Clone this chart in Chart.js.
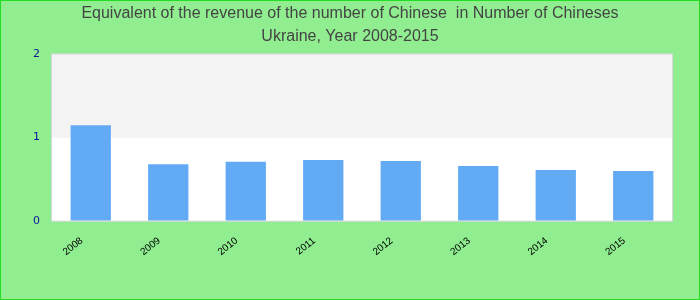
<!DOCTYPE html>
<html>
<head>
<meta charset="utf-8">
<script src="https://cdn.jsdelivr.net/npm/chart.js@4/dist/chart.umd.min.js"></script>
<style>
  html, body { margin: 0; padding: 0; }
  #wrap {
    width: 700px; height: 300px; box-sizing: border-box;
    border: 1px solid #22dd22; background: #90ee90;
  }
</style>
</head>
<body>
<div id="wrap"><canvas id="myChart" width="698" height="298"></canvas></div>
<script>
const years = ['2008', '2009', '2010', '2011', '2012', '2013', '2014', '2015'];
const values = [1.15, 0.68, 0.71, 0.73, 0.72, 0.66, 0.61, 0.60];
const titleLines = ['Equivalent of the revenue of the number of Chinese  in Number of Chineses', 'Ukraine, Year 2008-2015'];

// white / light grey bands behind the bars plus a thin frame
const bands = {
    id: 'bands',
    beforeDatasetsDraw(chart) {
        const {ctx, chartArea: a, scales: {y}} = chart;
        ctx.save();
        ctx.fillStyle = '#ffffff';
        ctx.fillRect(a.left, a.top, a.right - a.left, a.bottom - a.top);
        ctx.fillStyle = '#f3f3f3';
        const y2 = y.getPixelForValue(2), y1 = y.getPixelForValue(1);
        ctx.fillRect(a.left, y2, a.right - a.left, y1 - y2);
        ctx.restore();
    },
    afterDatasetsDraw(chart) {
        const {ctx, chartArea: a} = chart;
        ctx.save();
        ctx.strokeStyle = '#d8d8d8';
        ctx.lineWidth = 1;
        ctx.strokeRect(a.left - 0.5, a.top - 0.5, a.right - a.left + 1, a.bottom - a.top + 1);
        ctx.restore();
    }
};

const ctx = document.getElementById('myChart');
new Chart(ctx, {
    type: 'bar',
    data: {
        labels: years,
        datasets: [{
            data: values,
            backgroundColor: '#63aaf5',
            borderWidth: 0,
            categoryPercentage: 1,
            barPercentage: 0.52
        }]
    },
    options: {
        responsive: false,
        animation: false,
        layout: { padding: { left: 12, right: 12, top: 0, bottom: 35 } },
        plugins: {
            legend: { display: false },
            tooltip: { enabled: false },
            title: {
                display: true,
                text: titleLines,
                color: '#444444',
                font: { family: 'Liberation Sans, Arial, sans-serif', size: 16, weight: 'normal', lineHeight: 1.45 },
                padding: { top: 1, bottom: 6 }
            }
        },
        scales: {
            x: {
                grid: { display: false },
                border: { display: false },
                ticks: {
                    color: '#000000',
                    font: { family: 'Liberation Sans, Arial, sans-serif', size: 10 },
                    minRotation: 38, maxRotation: 38,
                    labelOffset: -9,
                    padding: 6
                }
            },
            y: {
                min: 0, max: 2,
                grid: { display: false },
                border: { display: false },
                afterFit(scale) { scale.width = 39; },
                ticks: {
                    stepSize: 1,
                    color: '#10109a',
                    font: { family: 'DejaVu Sans, sans-serif', size: 11 },
                    padding: 4
                }
            },
            // empty right axis only to reserve the margin on the right
            yRight: {
                position: 'right',
                min: 0, max: 2,
                grid: { display: false },
                border: { display: false },
                ticks: { display: false },
                afterFit(scale) { scale.width = 15; }
            }
        }
    },
    plugins: [bands]
});
</script>
</body>
</html>
